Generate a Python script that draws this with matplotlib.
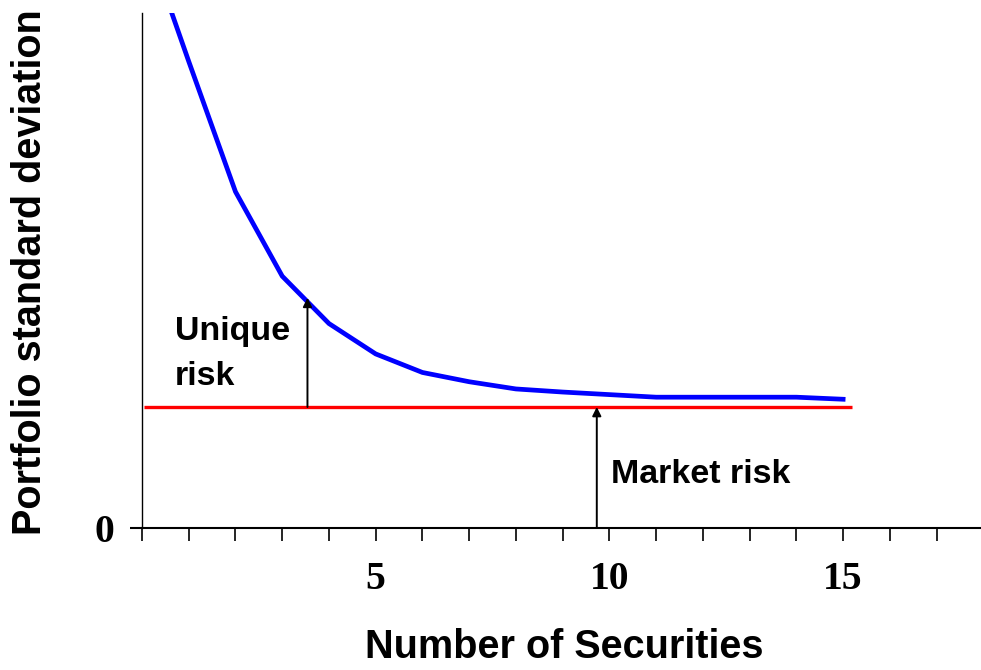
import numpy as np
import matplotlib
matplotlib.use("Agg")
import matplotlib.pyplot as plt

# Data
n_securities = [0, 1, 2, 3, 4, 5, 6, 7, 8, 9, 10, 11, 12, 13, 14, 15]
portfolio_sd = [11.65, 9.06, 6.53, 4.89, 3.97, 3.38, 3.02, 2.84, 2.70,
                2.64, 2.59, 2.54, 2.54, 2.54, 2.54, 2.50]
market_risk = 2.35
market_span = [0.05, 15.2]

x_ticks = list(range(0, 18))
x_tick_labels = ["" if t not in (5, 10, 15) else str(t) for t in x_ticks]
y_ticks = [0]
y_tick_labels = ["0"]

# annotation anchors (data coords)
unique_arrow_x = 3.54
unique_arrow_top = 4.47
market_arrow_x = 9.73

SANS = "Liberation Sans"
SERIF = "Liberation Serif"

fig = plt.figure(figsize=(9.81, 6.70), dpi=100)
ax = fig.add_axes([142 / 981, 142 / 670, 1 - 142 / 981, 515 / 670])
ax.set_xlim(0, 17.95)
ax.set_ylim(0, 10)

ax.plot(n_securities, portfolio_sd, color="#0000ff", lw=3.4,
        solid_joinstyle="miter", zorder=3)
ax.hlines(market_risk, market_span[0], market_span[1], color="#ff0000",
          lw=2.4, zorder=2)

# arrows
ax.annotate("", xy=(unique_arrow_x, unique_arrow_top),
            xytext=(unique_arrow_x, market_risk),
            arrowprops=dict(arrowstyle="-|>", color="black", lw=1.4,
                            mutation_scale=13, shrinkA=0, shrinkB=0))
ax.annotate("", xy=(market_arrow_x, market_risk),
            xytext=(market_arrow_x, 0),
            arrowprops=dict(arrowstyle="-|>", color="black", lw=1.4,
                            mutation_scale=13, shrinkA=0, shrinkB=0))

ax.text(0.70, 3.65, "Unique", family=SANS, weight="bold", fontsize=24.5,
        ha="left", va="baseline")
ax.text(0.70, 2.78, "risk", family=SANS, weight="bold", fontsize=24.5,
        ha="left", va="baseline")
ax.text(10.04, 0.874, "Market risk", family=SANS, weight="bold",
        fontsize=24.5, ha="left", va="baseline")

# axes styling
for side in ("top", "right"):
    ax.spines[side].set_visible(False)
ax.spines["left"].set_linewidth(1.0)
ax.spines["bottom"].set_linewidth(1.5)

ax.set_xticks(x_ticks)
ax.set_xticklabels(x_tick_labels, family=SERIF, weight="bold", fontsize=28.5)
ax.set_yticks(y_ticks)
ax.set_yticklabels(y_tick_labels, family=SERIF, weight="bold", fontsize=28.5)
ax.tick_params(axis="x", direction="out", length=9, width=1.2, pad=15)
ax.tick_params(axis="y", direction="out", length=9, width=1.5, pad=11)

fig.text(564 / 981, 4 / 670, "Number of Securities", family=SANS,
         weight="bold", fontsize=28.5, ha="center", va="bottom")
fig.text(30 / 981, 1 - 272 / 670, "Portfolio standard deviation",
         family=SANS, weight="bold", fontsize=28.5, rotation=90,
         ha="center", va="center")

fig.savefig("out.png", dpi=100)
